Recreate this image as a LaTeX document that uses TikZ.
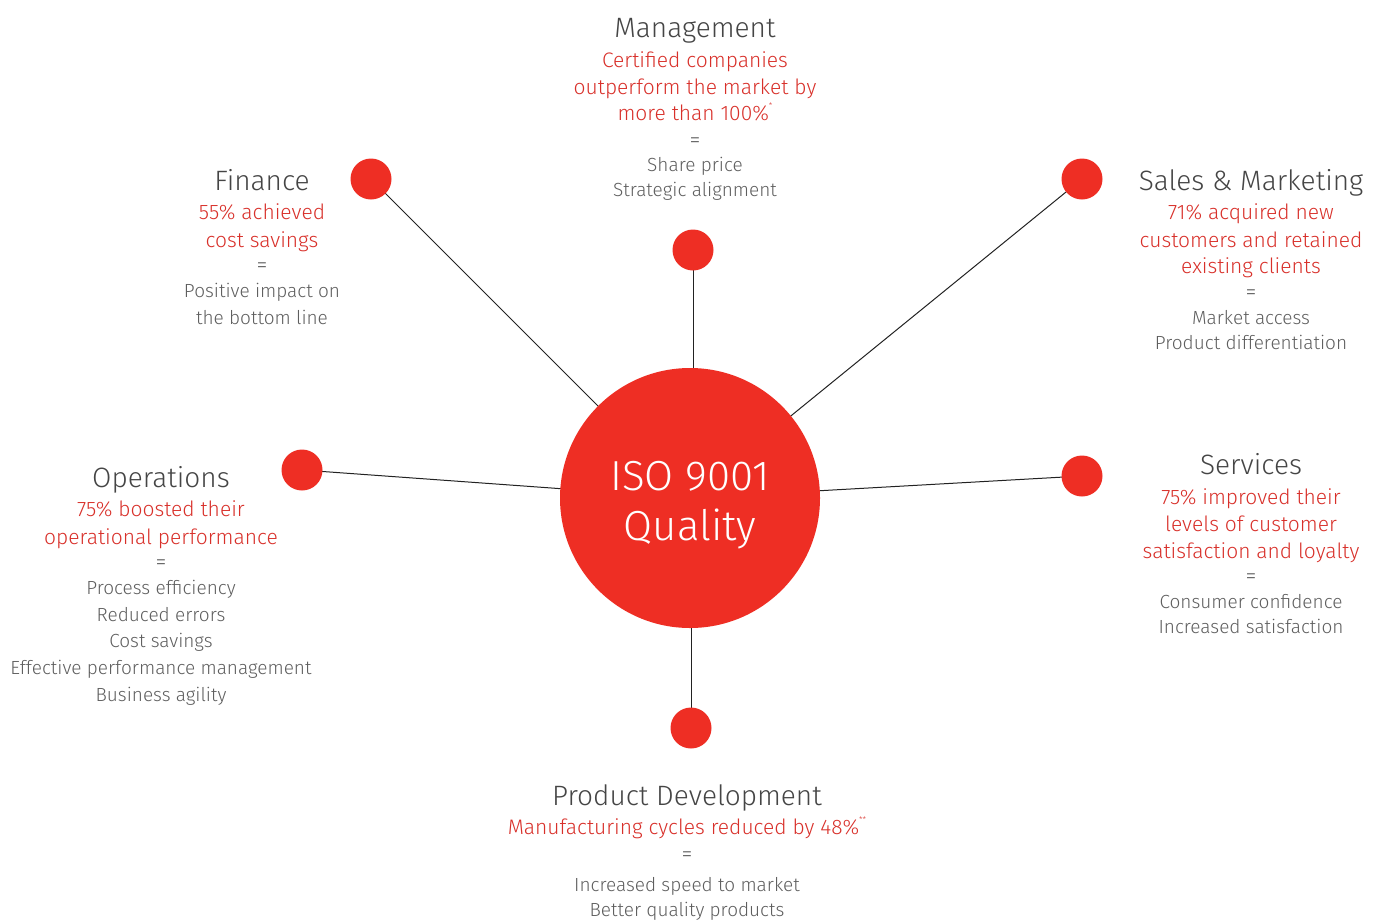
\documentclass[tikz,border=0pt]{standalone}
\usepackage{fontspec}
\setmainfont{Fira Sans Light}
\definecolor{dotred}{HTML}{EE2E24}
\definecolor{txtred}{HTML}{D8302A}
\definecolor{ttlgray}{HTML}{454545}
\definecolor{bodygray}{HTML}{5E5E5E}
\definecolor{linegray}{HTML}{222222}
\begin{document}
\begin{tikzpicture}[x=1pt,y=-1pt,
  ttl/.style={anchor=base, inner sep=0pt, text=ttlgray, font=\fontsize{28}{30}\selectfont},
  rtxt/.style={anchor=base, inner sep=0pt, text=txtred, font=\fontsize{21}{25}\selectfont},
  gtxt/.style={anchor=base, inner sep=0pt, text=bodygray, font=\fontsize{19}{22}\selectfont},
  eqtxt/.style={anchor=base, inner sep=0pt, text=bodygray, font=\fontsize{22}{22}\selectfont},
  dot/.style={circle, fill=dotred, draw=none, minimum size=41pt, inner sep=0pt},
  big/.style={circle, fill=dotred, draw=none, minimum size=260pt, inner sep=0pt},
  bigtxt/.style={inner sep=0pt, text=white, align=center, font=\fontsize{42}{50}\selectfont},
  conn/.style={draw=linegray, line width=1pt}]
\useasboundingbox (0,0) rectangle (1378,919);
\coordinate (cISO) at (690,498);
\coordinate (cFin) at (371,179);
\coordinate (cMg) at (693,250);
\coordinate (cSal) at (1082,179);
\coordinate (cOp) at (302,470);
\coordinate (cSv) at (1082,476);
\coordinate (cPd) at (691,728);
\draw[conn] (cFin) -- (cISO);
\draw[conn] (cMg) -- (cMg |- cISO);
\draw[conn] (cSal) -- (cISO);
\draw[conn] (cOp) -- (cISO);
\draw[conn] (cSv) -- (cISO);
\draw[conn] (cPd) -- (cPd |- cISO);
\node[big] (iso) at (cISO) {};
\node[bigtxt] (isoT) at ([yshift=-7.5pt]iso.center) {ISO 9001\\Quality};
\node[dot] (fin) at (cFin) {};
\node[dot] (mg) at (cMg) {};
\node[dot] (sal) at (cSal) {};
\node[dot] (op) at (cOp) {};
\node[dot] (sv) at (cSv) {};
\node[dot] (pd) at (cPd) {};
% Management
\node[ttl] (mgT) at (695,37) {Management};
\node[rtxt] (mgR1) at (695,67) {Certified companies};
\node[rtxt] (mgR2) at (695,94) {outperform the market by};
\node[rtxt] (mgR3) at (695,120) {more than 100\%\raisebox{0.55em}{\fontsize{8}{8}\selectfont *}};
\node[eqtxt] (mgE) at (695,147) {=};
\node[gtxt] (mgG1) at (695,171) {Share price};
\node[gtxt] (mgG2) at (695,196) {Strategic alignment};
% Finance
\node[ttl] (fiT) at (262,190) {Finance};
\node[rtxt] (fiR1) at (262,219) {55\% achieved};
\node[rtxt] (fiR2) at (262,247) {cost savings};
\node[eqtxt] (fiE) at (262,272) {=};
\node[gtxt] (fiG1) at (262,297) {Positive impact on};
\node[gtxt] (fiG2) at (262,324) {the bottom line};
% Sales & Marketing
\node[ttl] (saT) at (1251,190) {Sales \& Marketing};
\node[rtxt] (saR1) at (1251,219) {71\% acquired new};
\node[rtxt] (saR2) at (1251,247) {customers and retained};
\node[rtxt] (saR3) at (1251,273) {existing clients};
\node[eqtxt] (saE) at (1251,299) {=};
\node[gtxt] (saG1) at (1251,324) {Market access};
\node[gtxt] (saG2) at (1251,349) {Product differentiation};
% Operations
\node[ttl] (opT) at (161,487) {Operations};
\node[rtxt] (opR1) at (161,516) {75\% boosted their};
\node[rtxt] (opR2) at (161,544) {operational performance};
\node[eqtxt] (opE) at (161,569) {=};
\node[gtxt] (opG1) at (161,594) {Process efficiency};
\node[gtxt] (opG2) at (161,621) {Reduced errors};
\node[gtxt] (opG3) at (161,647) {Cost savings};
\node[gtxt] (opG4) at (161,674) {Effective performance management};
\node[gtxt] (opG5) at (161,701) {Business agility};
% Services
\node[ttl] (svT) at (1251,474) {Services};
\node[rtxt] (svR1) at (1251,504) {75\% improved their};
\node[rtxt] (svR2) at (1251,531) {levels of customer};
\node[rtxt] (svR3) at (1251,558) {satisfaction and loyalty};
\node[eqtxt] (svE) at (1251,583) {=};
\node[gtxt] (svG1) at (1251,608) {Consumer confidence};
\node[gtxt] (svG2) at (1251,633) {Increased satisfaction};
% Product Development
\node[ttl] (pdT) at (687,805) {Product Development};
\node[rtxt] (pdR1) at (687,834) {Manufacturing cycles reduced by 48\%\raisebox{0.55em}{\fontsize{8}{8}\selectfont **}};
\node[eqtxt] (pdE) at (687,861) {=};
\node[gtxt] (pdG1) at (687,891) {Increased speed to market};
\node[gtxt] (pdG2) at (687,916) {Better quality products};
\end{tikzpicture}
\end{document}
